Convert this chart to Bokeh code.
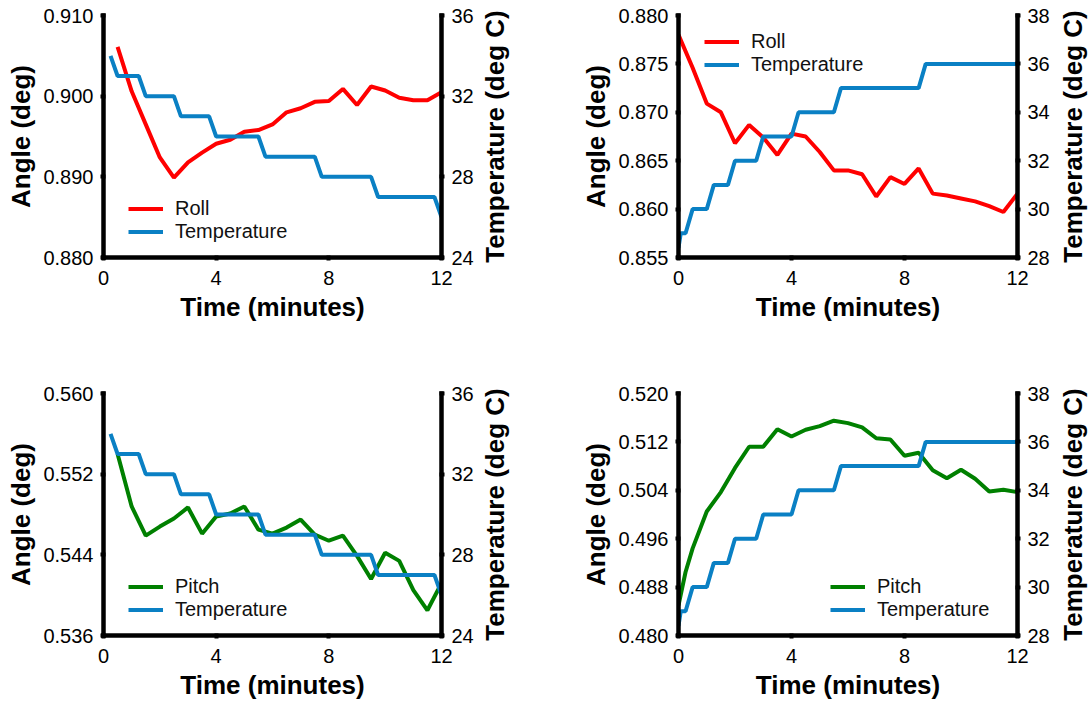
from bokeh.plotting import figure
from bokeh.models import (LinearAxis, Range1d, FixedTicker, PrintfTickFormatter,
                          Legend, LegendItem)
from bokeh.layouts import gridplot
from bokeh.embed import file_html
from bokeh.resources import INLINE

# ---------------- data ----------------
x_ticks = [0, 4, 8, 12]

# experiment A (left column): temperature falling
time_a = [0.5, 1.0, 1.5, 2.0, 2.5, 3.0, 3.5, 4.0, 4.5, 5.0, 5.5, 6.0,
          6.5, 7.0, 7.5, 8.0, 8.5, 9.0, 9.5, 10.0, 10.5, 11.0, 11.5, 12.0]
roll_a = [0.9061, 0.9006, 0.8965, 0.8924, 0.8899, 0.8918, 0.8930, 0.8941,
          0.8946, 0.8956, 0.8958, 0.8965, 0.8980, 0.8985, 0.8993, 0.8994,
          0.9009, 0.8989, 0.9012, 0.9007, 0.8998, 0.8995, 0.8995, 0.9005]
pitch_a = [0.5540, 0.5488, 0.5459, 0.5468, 0.5476, 0.5487, 0.5461, 0.5478,
           0.5481, 0.5488, 0.5465, 0.5461, 0.5467, 0.5475, 0.5460, 0.5454,
           0.5459, 0.5439, 0.5416, 0.5442, 0.5434, 0.5405, 0.5385, 0.5412]
temp_a_time = [0.25, 0.5, 1.25, 1.5, 2.5, 2.75, 3.75, 4.0, 5.5, 5.75,
               7.5, 7.75, 9.5, 9.75, 11.75, 12.0]
temp_a = [34, 33, 33, 32, 32, 31, 31, 30, 30, 29, 29, 28, 28, 27, 27, 26]

# experiment B (right column): temperature rising
time_b_roll = [0.0, 0.5, 1.0, 1.5, 2.0, 2.5, 3.0, 3.5, 4.0, 4.5, 5.0, 5.5,
               6.0, 6.5, 7.0, 7.5, 8.0, 8.5, 9.0, 9.5, 10.0, 10.5, 11.0,
               11.5, 12.0]
roll_b = [0.8780, 0.8746, 0.8709, 0.8700, 0.8668, 0.8687, 0.8674, 0.8656,
          0.8678, 0.8675, 0.8659, 0.8640, 0.8640, 0.8636, 0.8613, 0.8633,
          0.8626, 0.8642, 0.8616, 0.8614, 0.8611, 0.8608, 0.8603, 0.8597,
          0.8616]
time_b_pitch = [0.0, 0.25, 0.5, 1.0, 1.5, 2.0, 2.5, 3.0, 3.5, 4.0, 4.5, 5.0,
                5.5, 6.0, 6.5, 7.0, 7.5, 8.0, 8.5, 9.0, 9.5, 10.0, 10.5,
                11.0, 11.5, 12.0]
pitch_b = [0.4850, 0.4905, 0.4944, 0.5005, 0.5037, 0.5077, 0.5112, 0.5112,
           0.5141, 0.5129, 0.5140, 0.5146, 0.5155, 0.5151, 0.5144, 0.5126,
           0.5124, 0.5097, 0.5102, 0.5073, 0.5060, 0.5074, 0.5059, 0.5038,
           0.5041, 0.5037]
temp_b_time = [0.0, 0.08, 0.25, 0.5, 1.0, 1.25, 1.75, 2.0, 2.75, 3.0, 4.0,
               4.25, 5.5, 5.75, 8.5, 8.75, 12.0]
temp_b = [28.4, 29, 29, 30, 30, 31, 31, 32, 32, 33, 33, 34, 34, 35, 35, 36, 36]

# axis ranges / ticks
angle_ticks_1 = [0.880, 0.890, 0.900, 0.910]
temp_ticks_1 = [24, 28, 32, 36]
angle_ticks_2 = [0.855, 0.860, 0.865, 0.870, 0.875, 0.880]
temp_ticks_2 = [28, 30, 32, 34, 36, 38]
angle_ticks_3 = [0.536, 0.544, 0.552, 0.560]
temp_ticks_3 = [24, 28, 32, 36]
angle_ticks_4 = [0.480, 0.488, 0.496, 0.504, 0.512, 0.520]
temp_ticks_4 = [28, 30, 32, 34, 36, 38]

# ---------------- styling ----------------
FONT = "Liberation Sans"
RED = "#ff0000"
GREEN = "#008000"
BLUE = "#0a80c4"
AXW = 4.5
ROW_H = 352


def style_axis(ax, ticks, fmt, label):
    ax.ticker = FixedTicker(ticks=ticks)
    ax.formatter = PrintfTickFormatter(format=fmt)
    ax.axis_label = label
    ax.axis_label_text_font = FONT
    ax.axis_label_text_font_size = "26px"
    ax.axis_label_text_font_style = "bold"
    ax.axis_label_text_color = "black"
    ax.major_label_text_font = FONT
    ax.major_label_text_font_size = "20px"
    ax.major_label_text_color = "black"
    ax.axis_line_width = AXW
    ax.axis_line_color = "black"
    ax.axis_line_cap = "square"
    ax.major_tick_line_width = 4
    ax.major_tick_line_color = "black"
    ax.major_tick_in = 2
    ax.major_tick_out = 3
    ax.minor_tick_line_color = None
    ax.major_label_standoff = 7
    ax.axis_label_standoff = 4


def make_panel(width, b_left, b_right, b_top, b_bottom, y_rng, y_ticks, t_rng, t_ticks,
               s_time, s_vals, s_color, s_name, tt, tv, leg_loc):
    p = figure(width=width, height=ROW_H, output_backend="svg", toolbar_location=None,
               x_range=Range1d(0, 12), y_range=Range1d(*y_rng),
               min_border_left=b_left, min_border_right=b_right,
               min_border_top=b_top, min_border_bottom=b_bottom)
    p.extra_y_ranges = {"temp": Range1d(*t_rng)}
    p.grid.visible = False
    p.outline_line_color = None
    p.background_fill_color = "white"
    p.border_fill_color = "white"

    style_axis(p.xaxis[0], x_ticks, "%d", "Time (minutes)")
    style_axis(p.yaxis[0], y_ticks, "%.3f", "Angle (deg)")
    p.xaxis[0].major_label_standoff = 10
    rax = LinearAxis(y_range_name="temp")
    style_axis(rax, t_ticks, "%d", None)
    p.add_layout(rax, "right")

    r1 = p.line(s_time, s_vals, line_color=s_color, line_width=4)
    r2 = p.line(tt, tv, line_color=BLUE, line_width=4, y_range_name="temp")

    leg = Legend(items=[LegendItem(label=s_name, renderers=[r1]),
                        LegendItem(label="Temperature", renderers=[r2])],
                 location=leg_loc)
    leg.background_fill_alpha = 0
    leg.border_line_color = None
    leg.padding = 0
    leg.margin = 0
    leg.spacing = 0
    leg.glyph_width = 35
    leg.glyph_height = 23
    leg.label_height = 23
    leg.label_standoff = 12
    leg.label_text_font = FONT
    leg.label_text_font_size = "20px"
    leg.label_text_color = "#111111"
    p.add_layout(leg)
    return p


def title_strip(width, b_left, b_top, b_bottom):
    # narrow strip carrying the right-hand "Temperature (deg C)" title,
    # reading bottom-to-top like the reference
    d = figure(width=width, height=ROW_H, output_backend="svg", toolbar_location=None,
               x_axis_location=None, x_range=Range1d(0, 1), y_range=Range1d(0, 1),
               min_border_left=b_left, min_border_right=0,
               min_border_top=b_top, min_border_bottom=b_bottom)
    d.grid.visible = False
    d.outline_line_color = None
    d.border_fill_color = "white"
    ax = d.yaxis[0]
    ax.ticker = FixedTicker(ticks=[])
    ax.axis_line_color = None
    ax.major_tick_line_color = None
    ax.minor_tick_line_color = None
    ax.major_tick_in = 0
    ax.major_tick_out = 0
    ax.axis_label = "Temperature (deg C)"
    ax.axis_label_text_font = FONT
    ax.axis_label_text_font_size = "26px"
    ax.axis_label_text_font_style = "bold"
    ax.axis_label_text_color = "black"
    ax.axis_label_standoff = 0
    return d


p1 = make_panel(476, 103, 34, 15, 95, (0.880, 0.910), angle_ticks_1, (24, 36), temp_ticks_1,
                time_a, roll_a, RED, "Roll", temp_a_time, temp_a, (25, 14))
d1 = title_strip(69, 26, 15, 95)
p2 = make_panel(509, 133, 37, 15, 95, (0.855, 0.880), angle_ticks_2, (28, 38), temp_ticks_2,
                time_b_roll, roll_b, RED, "Roll", temp_b_time, temp_b, (26, 181))
d2 = title_strip(36, 26, 15, 95)
p3 = make_panel(476, 103, 34, 41, 69, (0.536, 0.560), angle_ticks_3, (24, 36), temp_ticks_3,
                time_a, pitch_a, GREEN, "Pitch", temp_a_time, temp_a, (25, 14))
d3 = title_strip(69, 26, 41, 69)
p4 = make_panel(509, 133, 37, 41, 69, (0.480, 0.520), angle_ticks_4, (28, 38), temp_ticks_4,
                time_b_pitch, pitch_b, GREEN, "Pitch", temp_b_time, temp_b, (152, 14))
d4 = title_strip(36, 26, 41, 69)

grid = gridplot([[p1, d1, p2, d2], [p3, d3, p4, d4]], toolbar_location=None)

open("out.html", "w").write(file_html(grid, INLINE))
